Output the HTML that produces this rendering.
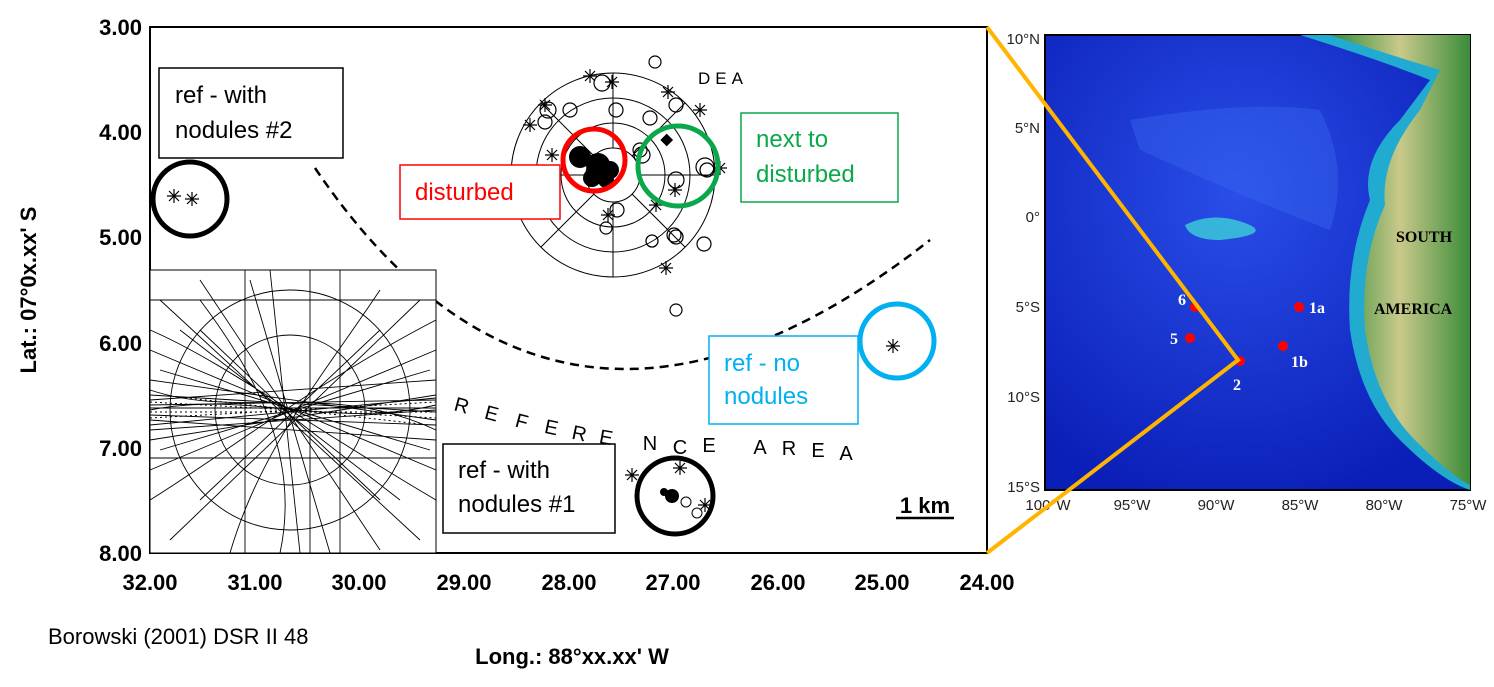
<!DOCTYPE html>
<html><head><meta charset="utf-8"><style>
body{margin:0;background:#fff;width:1494px;height:682px;overflow:hidden;font-family:"Liberation Sans",sans-serif}
</style></head><body>
<svg width="1494" height="682" viewBox="0 0 1494 682" xmlns="http://www.w3.org/2000/svg" font-family="Liberation Sans, sans-serif">
<defs>
<radialGradient id="sea" cx="0.45" cy="0.35" r="0.7"><stop offset="0" stop-color="#2a4ee8"/><stop offset="1" stop-color="#0a1fb8"/></radialGradient>
<linearGradient id="land" x1="0" x2="1"><stop offset="0" stop-color="#2f8a3a"/><stop offset="0.5" stop-color="#c9c98a"/><stop offset="1" stop-color="#3a8c3a"/></linearGradient>
<g id="st" stroke="#000" stroke-width="1.2"><path d="M-7,0H7M0,-7V7M-5,-5L5,5M-5,5L5,-5"/></g>
</defs>
<rect x="150" y="27" width="837" height="526" fill="#fff" stroke="#000" stroke-width="2"/>
<g font-weight="bold" font-size="22" text-anchor="end">
<text x="142" y="35">3.00</text><text x="142" y="140">4.00</text><text x="142" y="245">5.00</text>
<text x="142" y="351">6.00</text><text x="142" y="456">7.00</text><text x="142" y="561">8.00</text>
</g>
<g font-weight="bold" font-size="22" text-anchor="middle">
<text x="150" y="590">32.00</text><text x="255" y="590">31.00</text><text x="359" y="590">30.00</text>
<text x="464" y="590">29.00</text><text x="569" y="590">28.00</text><text x="673" y="590">27.00</text>
<text x="778" y="590">26.00</text><text x="882" y="590">25.00</text><text x="987" y="590">24.00</text>
<text x="572" y="664">Long.: 88°xx.xx' W</text>
</g>
<text transform="translate(36,290) rotate(-90)" font-weight="bold" font-size="22" text-anchor="middle">Lat.: 07°0x.xx' S</text>
<text x="48" y="644" font-size="22">Borowski (2001) DSR II 48</text>
<path d="M315,168 Q560,530 930,240" fill="none" stroke="#000" stroke-width="2.5" stroke-dasharray="9,6"/>
<g fill="none" stroke="#000" stroke-width="1">
<circle cx="613" cy="175" r="102"/><circle cx="613" cy="175" r="77"/><circle cx="613" cy="175" r="52"/><circle cx="613" cy="175" r="27"/>
<path d="M613,73 V148 M613,202 V277 M511,175 H586 M640,175 H715 M541,103 L594,156 M632,194 L685,247 M685,103 L632,156 M594,194 L541,247"/>
</g>
<g fill="none" stroke="#000" stroke-width="1.2">
<circle cx="655" cy="62" r="6"/><circle cx="570" cy="110" r="7"/><circle cx="545" cy="122" r="7"/><circle cx="616" cy="110" r="7"/><circle cx="650" cy="118" r="7"/><circle cx="676" cy="105" r="7"/><circle cx="676" cy="180" r="8"/><circle cx="704" cy="244" r="7"/><circle cx="676" cy="310" r="6"/><circle cx="606" cy="228" r="6"/><circle cx="617" cy="210" r="7"/><circle cx="548" cy="110" r="8"/><circle cx="602" cy="83" r="8"/><circle cx="674" cy="235" r="7"/><circle cx="640" cy="150" r="7"/><circle cx="705" cy="167" r="9"/><circle cx="642" cy="155" r="8"/>
</g>
<g>
<use href="#st" x="590" y="76"/><use href="#st" x="530" y="125"/><use href="#st" x="552" y="155"/><use href="#st" x="656" y="205"/><use href="#st" x="608" y="215"/><use href="#st" x="675" y="190"/><use href="#st" x="666" y="268"/><use href="#st" x="720" y="168"/><use href="#st" x="668" y="92"/><use href="#st" x="700" y="110"/><use href="#st" x="545" y="105"/><use href="#st" x="612" y="82"/>
<use href="#st" x="174" y="196"/><use href="#st" x="192" y="199"/><use href="#st" x="893" y="346"/><use href="#st" x="680" y="468"/><use href="#st" x="632" y="475"/><use href="#st" x="705" y="505"/>
</g>
<g fill="#000">
<circle cx="580" cy="157" r="11"/><circle cx="598" cy="165" r="12"/><circle cx="610" cy="170" r="9"/><circle cx="592" cy="178" r="9"/><circle cx="606" cy="180" r="8"/>
<rect x="662" y="135" width="9" height="9" transform="rotate(45 666 140)"/>
</g>
<g fill="none" stroke="#000" stroke-width="1.3"><circle cx="676" cy="237" r="7"/><circle cx="707" cy="170" r="7"/><circle cx="652" cy="241" r="6"/></g>
<text x="698" y="84" font-size="17" letter-spacing="5">DEA</text>
<circle cx="594" cy="160" r="31" fill="none" stroke="#f00" stroke-width="5"/>
<circle cx="678" cy="166" r="40" fill="none" stroke="#0aa84a" stroke-width="5"/>
<circle cx="190" cy="199" r="37" fill="none" stroke="#000" stroke-width="5"/>
<circle cx="897" cy="341" r="37" fill="none" stroke="#00b0f0" stroke-width="5"/>
<circle cx="675" cy="496" r="38" fill="none" stroke="#000" stroke-width="5"/>
<g fill="#000"><circle cx="672" cy="496" r="7"/><circle cx="664" cy="492" r="4"/></g>
<g fill="none" stroke="#000"><circle cx="686" cy="502" r="5"/><circle cx="697" cy="513" r="5"/></g>
<rect x="159" y="68" width="184" height="90" fill="#fff" stroke="#000" stroke-width="1.5"/>
<text x="175" y="103" font-size="24">ref - with</text><text x="175" y="138" font-size="24">nodules #2</text>
<rect x="400" y="165" width="160" height="54" fill="#fff" stroke="#f00" stroke-width="1.5"/>
<text x="415" y="200" font-size="24" fill="#f00">disturbed</text>
<rect x="741" y="113" width="157" height="89" fill="#fff" stroke="#0aa84a" stroke-width="1.5"/>
<text x="756" y="147" font-size="24" fill="#0aa84a">next to</text><text x="756" y="182" font-size="24" fill="#0aa84a">disturbed</text>
<rect x="709" y="336" width="149" height="88" fill="#fff" stroke="#00b0f0" stroke-width="1.5"/>
<text x="724" y="371" font-size="24" fill="#00b0f0">ref - no</text><text x="724" y="404" font-size="24" fill="#00b0f0">nodules</text>
<rect x="443" y="444" width="172" height="89" fill="#fff" stroke="#000" stroke-width="1.5"/>
<text x="458" y="478" font-size="24">ref - with</text><text x="458" y="512" font-size="24">nodules #1</text>
<g font-size="20" text-anchor="middle">
<text x="460" y="412" transform="rotate(15 460 412)">R</text><text x="490" y="420" transform="rotate(15 490 420)">E</text><text x="520" y="428" transform="rotate(15 520 428)">F</text><text x="550" y="434" transform="rotate(12 550 434)">E</text><text x="578" y="440" transform="rotate(12 578 440)">R</text><text x="605" y="444" transform="rotate(10 605 444)">E</text><text x="650" y="450">N</text><text x="680" y="454">C</text><text x="709" y="452">E</text><text x="760" y="454">A</text><text x="789" y="455">R</text><text x="818" y="457">E</text><text x="846" y="460">A</text>
</g>
<text x="925" y="513" font-size="22" font-weight="bold" text-anchor="middle">1 km</text>
<line x1="896" y1="518" x2="954" y2="518" stroke="#000" stroke-width="2.5"/>
<rect x="150" y="270" width="286" height="283" fill="#fff" stroke="#000" stroke-width="1"/>
<g fill="none" stroke="#000" stroke-width="0.9">
<path d="M245,270V553M310,270V553M340,270V553M150,300H436M150,458H436"/>
<circle cx="290" cy="410" r="75"/><circle cx="290" cy="410" r="120"/>
<path d="M150,380 L436,420 M150,400 L436,380 M150,420 L436,440 M150,440 L436,395 M160,300 L420,540 M170,540 L420,300 M200,280 L380,550 M250,280 L330,553 M150,350 L436,470 M150,470 L436,350 M180,330 L400,500 M150,410 C250,390 330,430 436,405 M150,390 C240,420 330,380 436,430 M200,300 C260,380 300,460 280,553 M380,290 C320,380 260,450 230,553 M150,330 C220,360 300,420 436,500 M150,500 C230,450 320,380 436,320 M270,270 L300,553 M150,430 L436,410 M150,415 L436,425 M150,405 L436,400 M150,395 L436,412 M150,425 L436,398 M160,370 L430,450 M160,450 L430,370 M200,330 L380,500 M380,330 L200,500 M150,408 L436,408"/>
</g>
<g stroke="#000" stroke-width="1" stroke-dasharray="2,3">
<path d="M150,412 L436,412 M150,402 L436,418 M150,418 L436,402 M170,396 L420,424"/>
</g>
<rect x="1045" y="35" width="425" height="455" fill="url(#sea)" stroke="#000" stroke-width="2"/>
<path d="M1300,35 Q1380,60 1430,80 L1400,120 Q1360,160 1370,200 Q1345,260 1350,330 Q1360,400 1400,440 Q1440,480 1470,490 L1470,35 Z" fill="#23b8d0" opacity="0.9"/>
<path d="M1330,35 Q1390,55 1440,70 L1420,110 Q1380,160 1385,205 Q1360,260 1365,330 Q1375,400 1415,440 Q1450,475 1470,485 L1470,35 Z" fill="url(#land)"/>
<path d="M1185,225 Q1215,210 1250,225 Q1270,235 1220,240 Q1190,240 1185,225Z" fill="#3bc8d8" opacity="0.85"/>
<path d="M1130,120 Q1250,100 1320,110 Q1350,170 1330,230 Q1250,200 1140,150Z" fill="#3a6af0" opacity="0.4"/>
<g font-size="15" fill="#222">
<text x="1040" y="44" text-anchor="end">10°N</text><text x="1040" y="133" text-anchor="end">5°N</text><text x="1040" y="222" text-anchor="end">0°</text><text x="1040" y="312" text-anchor="end">5°S</text><text x="1040" y="402" text-anchor="end">10°S</text><text x="1040" y="492" text-anchor="end">15°S</text>
<g text-anchor="middle"><text x="1048" y="510">100°W</text><text x="1132" y="510">95°W</text><text x="1216" y="510">90°W</text><text x="1300" y="510">85°W</text><text x="1384" y="510">80°W</text><text x="1468" y="510">75°W</text></g>
</g>
<g font-family="Liberation Serif, serif" font-weight="bold" font-size="16">
<text x="1396" y="242">SOUTH</text><text x="1374" y="314">AMERICA</text>
<g fill="#fff"><text x="1178" y="305">6</text><text x="1170" y="344">5</text><text x="1309" y="313">1a</text><text x="1291" y="367">1b</text><text x="1233" y="390">2</text></g>
</g>
<g fill="#f00"><circle cx="1195" cy="307" r="5"/><circle cx="1190" cy="338" r="5"/><circle cx="1299" cy="307" r="5"/><circle cx="1283" cy="346" r="5"/><circle cx="1240" cy="361" r="5"/></g>
<path d="M987,27 L1238,360 L987,553" fill="none" stroke="#ffb400" stroke-width="4"/>
</svg>
</body></html>
